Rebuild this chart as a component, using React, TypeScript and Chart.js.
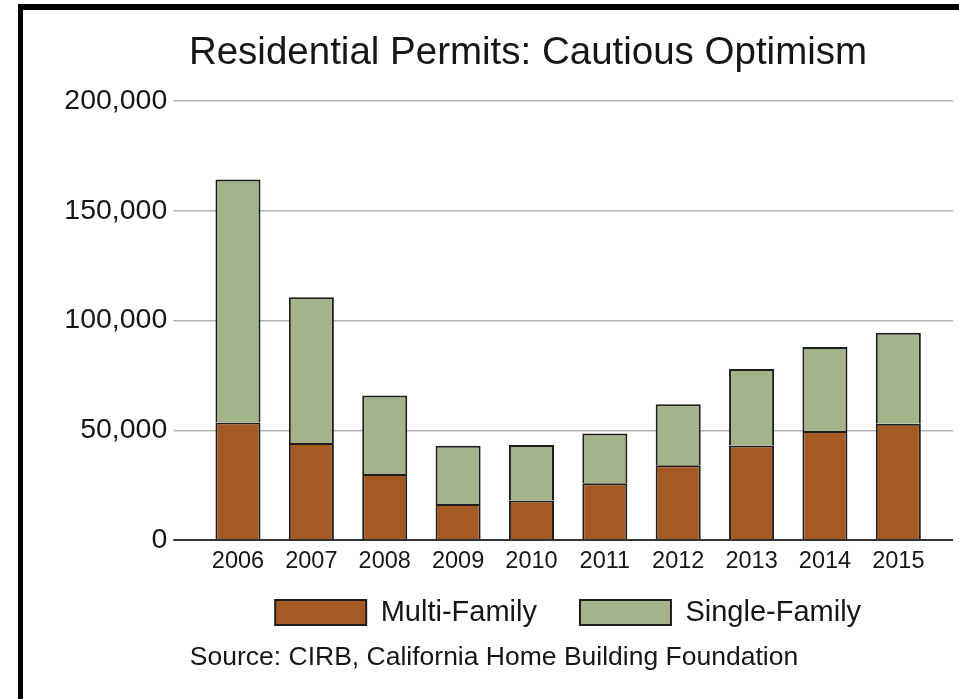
import React, { useEffect, useRef } from "react";
import { Chart, registerables } from "chart.js";

Chart.register(...registerables);

const categories = ["2006", "2007", "2008", "2009", "2010", "2011", "2012", "2013", "2014", "2015"];
const multiFamily = [53500, 44200, 30100, 16400, 18000, 25900, 34100, 43000, 49700, 53000];
const singleFamily = [110700, 66400, 35700, 26500, 25300, 22600, 27700, 34900, 38200, 41400];
const seriesNames = ["Multi-Family", "Single-Family"];
const yMin = 0;
const yMax = 200000;
const yStep = 50000;

const titleText = "Residential Permits: Cautious Optimism";
const sourceText = "Source: CIRB, California Home Building Foundation";

const FONT = "'Liberation Sans', Arial, Helvetica, sans-serif";
const BROWN = "#a55a24";
const GREEN = "#a4b48a";
const EDGE = "#1e1e1e";
const GRID = "#b3b3b3";
const BASE = "#333333";
const TEXT = "#161616";

export default function App() {
  const ref = useRef<HTMLCanvasElement | null>(null);

  useEffect(() => {
    if (!ref.current) return;
    const gridColor = (ctx: any) => (ctx.tick && ctx.tick.value === 0 ? BASE : GRID);
    const gridWidth = (ctx: any) => (ctx.tick && ctx.tick.value === 0 ? 2 : 1.5);
    const segBorder = { top: 2, bottom: 0, left: 2, right: 2 };
    const chart = new Chart(ref.current, {
      type: "bar",
      data: {
        labels: categories,
        datasets: [
          {
            label: seriesNames[0],
            data: multiFamily,
            backgroundColor: BROWN,
            borderColor: EDGE,
            borderWidth: segBorder,
            borderSkipped: false,
          },
          {
            label: seriesNames[1],
            data: singleFamily,
            backgroundColor: GREEN,
            borderColor: EDGE,
            borderWidth: segBorder,
            borderSkipped: false,
          },
        ],
      },
      options: {
        responsive: false,
        animation: false,
        devicePixelRatio: 1,
        layout: { padding: { left: 20, right: 6, top: 101, bottom: 62 } },
        datasets: { bar: { categoryPercentage: 1, barPercentage: 0.614 } },
        plugins: {
          title: { display: false },
          tooltip: { enabled: false },
          legend: {
            display: true,
            position: "bottom",
            fullSize: false,
            labels: {
              boxWidth: 91,
              boxHeight: 25,
              padding: 43,
              color: TEXT,
              font: { family: FONT, size: 29 },
              generateLabels: (c: any) =>
                c.data.datasets.map((ds: any, i: number) => ({
                  text: ds.label,
                  fillStyle: ds.backgroundColor,
                  strokeStyle: ds.borderColor,
                  lineWidth: 2,
                  hidden: false,
                  datasetIndex: i,
                  fontColor: TEXT,
                })),
            },
          },
        },
        scales: {
          x: {
            stacked: true,
            grid: { display: false, drawTicks: false },
            border: { display: true, color: BASE, width: 2 },
            ticks: { color: TEXT, font: { family: FONT, size: 23.5 }, padding: -36, mirror: true, maxRotation: 0 },
            afterFit: (s: any) => {
              s.height = 15;
            },
          },
          y: {
            stacked: true,
            min: yMin,
            max: yMax,
            border: { display: false },
            grid: { color: gridColor, lineWidth: gridWidth, drawTicks: true, tickLength: 28 },
            ticks: {
              stepSize: yStep,
              padding: 6,
              color: TEXT,
              font: { family: FONT, size: 28.5 },
              callback: (v: any) => Number(v).toLocaleString("en-US"),
            },
            afterFit: (s: any) => {
              s.width = 181.3;
            },
          },
          y2: {
            position: "right",
            min: yMin,
            max: yMax,
            border: { display: false },
            grid: { color: gridColor, lineWidth: gridWidth, drawOnChartArea: false, drawTicks: true, tickLength: 18 },
            ticks: { display: false, stepSize: yStep },
          },
        },
      },
    });
    return () => chart.destroy();
  }, []);

  return (
    <div style={{ position: "absolute", left: 0, top: 0, width: 959, height: 699, background: "#fff", overflow: "hidden" }}>
      <canvas ref={ref} width={959} height={699} style={{ position: "absolute", left: 0, top: 0, display: "block" }} />
      <div
        style={{
          position: "absolute",
          left: 18,
          top: 4,
          right: 0,
          bottom: 0,
          borderLeft: "5px solid #000",
          borderTop: "6px solid #000",
          pointerEvents: "none",
        }}
      />
      <div
        style={{
          position: "absolute",
          left: 528,
          top: 32,
          transform: "translateX(-50%)",
          whiteSpace: "nowrap",
          fontFamily: FONT,
          fontSize: 38.5,
          lineHeight: "38px",
          color: TEXT,
        }}
      >
        {titleText}
      </div>
      <div
        style={{
          position: "absolute",
          left: 494,
          top: 643,
          transform: "translateX(-50%)",
          whiteSpace: "nowrap",
          fontFamily: FONT,
          fontSize: 26.5,
          lineHeight: "26.5px",
          color: TEXT,
        }}
      >
        {sourceText}
      </div>
    </div>
  );
}
